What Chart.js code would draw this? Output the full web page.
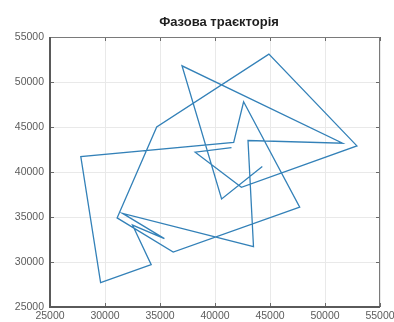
<!DOCTYPE html>
<html>
<head>
<meta charset="utf-8">
<script src="https://cdn.jsdelivr.net/npm/chart.js@4.4.1/dist/chart.umd.min.js"></script>
<style>
  html, body { margin: 0; padding: 0; background: #ffffff; }
  #wrap { width: 394px; height: 322px; }
</style>
</head>
<body>
<div id="wrap"><canvas id="c" width="394" height="322"></canvas></div>
<script>
// Phase trajectory: successive (x, y) states of the system
const trajX = [44300, 40600, 37000, 51600, 43000, 43500, 31600, 35400, 32500, 34200, 29600, 27800,
               41700, 42600, 47700, 36200, 31100, 34700, 44900, 52900, 42400, 38200, 41500];
const trajY = [40600, 37000, 51800, 43200, 43500, 31700, 35400, 32600, 34100, 29700, 27700, 41700,
               43300, 47800, 36100, 31100, 34900, 45000, 53100, 42900, 38300, 42200, 42700];

const xTicks = [25000, 30000, 35000, 40000, 45000, 50000, 55000];
const yTicks = [25000, 30000, 35000, 40000, 45000, 50000, 55000];
const titleText = 'Фазова траєкторія';

const points = trajX.map((x, i) => ({ x: x, y: trajY[i] }));

// Title centred over the plotting area
const titlePlugin = {
  id: 'plotTitle',
  afterDraw(chart) {
    const { ctx, chartArea: a } = chart;
    ctx.save();
    ctx.fillStyle = '#1e1e1e';
    ctx.font = 'bold 13px "Liberation Sans", Arial, sans-serif';
    ctx.textAlign = 'center';
    ctx.textBaseline = 'middle';
    ctx.fillText(titleText, (a.left + a.right) / 2 + 4, 22);
    ctx.restore();
  }
};

// Frame around the plot with short inward tick marks on all four sides
const framePlugin = {
  id: 'frame',
  beforeDatasetsDraw(chart) {
    const { ctx, chartArea: a, scales } = chart;
    ctx.save();
    ctx.lineCap = 'butt';
    ctx.strokeStyle = '#6a6a6a';
    ctx.lineWidth = 1;
    const tick = 4;
    xTicks.forEach(v => {
      const px = Math.round(scales.x.getPixelForValue(v)) + 0.5;
      ctx.beginPath();
      ctx.moveTo(px, a.top); ctx.lineTo(px, a.top + tick);
      ctx.moveTo(px, a.bottom); ctx.lineTo(px, a.bottom - tick);
      ctx.stroke();
    });
    yTicks.forEach(v => {
      const py = Math.round(scales.y.getPixelForValue(v)) + 0.5;
      ctx.beginPath();
      ctx.moveTo(a.left, py); ctx.lineTo(a.left + tick, py);
      ctx.moveTo(a.right, py); ctx.lineTo(a.right - tick, py);
      ctx.stroke();
    });
    // top and right edges
    ctx.strokeStyle = '#7a7a7a';
    ctx.beginPath();
    ctx.moveTo(a.left, a.top + 0.5); ctx.lineTo(a.right, a.top + 0.5);
    ctx.moveTo(a.right - 0.5, a.top); ctx.lineTo(a.right - 0.5, a.bottom);
    ctx.stroke();
    // left and bottom axes
    ctx.strokeStyle = '#5a5a5a';
    ctx.lineWidth = 2;
    ctx.beginPath();
    ctx.moveTo(a.left, a.top); ctx.lineTo(a.left, a.bottom);
    ctx.lineTo(a.right, a.bottom);
    ctx.stroke();
    ctx.restore();
  }
};

new Chart(document.getElementById('c'), {
  type: 'scatter',
  data: {
    datasets: [{
      data: points,
      showLine: true,
      borderColor: '#3381b8',
      borderWidth: 1.3,
      pointRadius: 0,
      pointHoverRadius: 0,
      tension: 0,
      fill: false
    }]
  },
  options: {
    responsive: false,
    animation: false,
    devicePixelRatio: 1,
    events: [],
    layout: { padding: { left: 0, right: 14, top: 37, bottom: 0 } },
    plugins: {
      legend: { display: false },
      tooltip: { enabled: false },
      title: { display: false }
    },
    scales: {
      x: {
        type: 'linear',
        min: 25000,
        max: 55000,
        afterBuildTicks: s => { s.ticks = xTicks.map(v => ({ value: v })); },
        afterFit: s => { s.height = 15; s.paddingLeft = 0; s.paddingRight = 0; },
        grid: { color: '#e9e9e9', lineWidth: 1, drawTicks: false },
        border: { display: false },
        ticks: {
          color: '#5c5c5c',
          padding: 3,
          maxRotation: 0,
          autoSkip: false,
          font: { family: 'Liberation Sans', size: 10.5 },
          callback: v => String(v)
        }
      },
      y: {
        type: 'linear',
        min: 25000,
        max: 55000,
        afterBuildTicks: s => { s.ticks = yTicks.map(v => ({ value: v })); },
        afterFit: s => { s.width = 50; s.paddingTop = 0; s.paddingBottom = 0; },
        grid: { color: '#e9e9e9', lineWidth: 1, drawTicks: false },
        border: { display: false },
        ticks: {
          color: '#5c5c5c',
          padding: 6,
          autoSkip: false,
          font: { family: 'Liberation Sans', size: 10.5 },
          callback: v => String(v)
        }
      }
    }
  },
  plugins: [framePlugin, titlePlugin]
});
</script>
</body>
</html>
